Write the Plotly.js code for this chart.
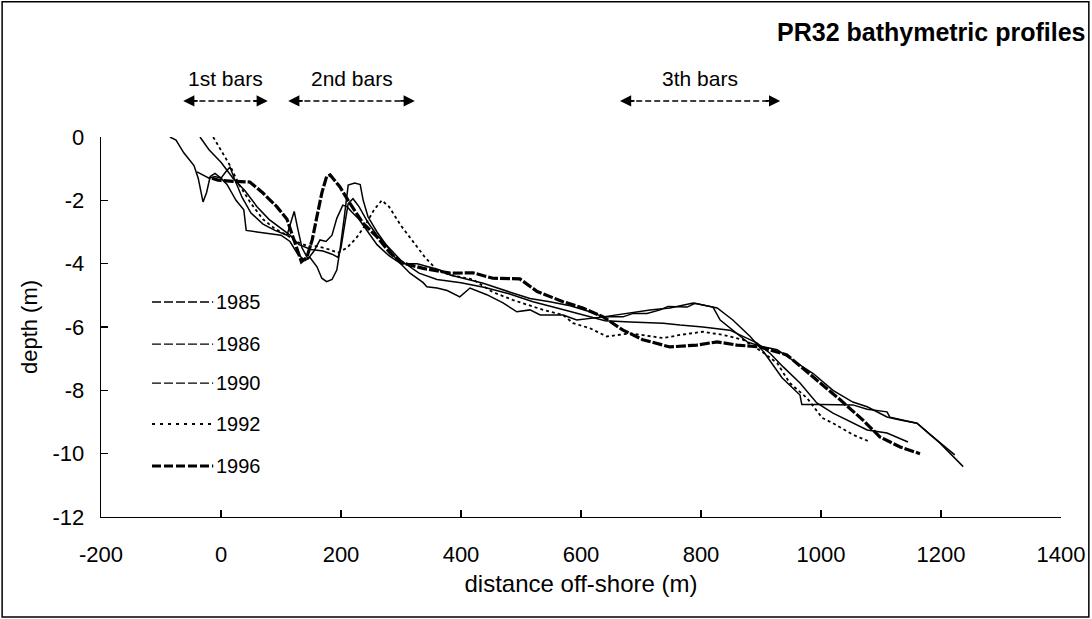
<!DOCTYPE html>
<html>
<head>
<meta charset="utf-8">
<script src="https://cdn.plot.ly/plotly-3.0.1.min.js"></script>
<style>html,body{margin:0;padding:0;background:#fff;}#chart{width:1092px;height:619px;}</style>
</head>
<body>
<div id="chart"></div>
<script>
// ---- data ----
const seriesNames = ["1985", "1986", "1990", "1992", "1996"];

const x1985 = [-85,-75,-62,-45,-38,-33,-30,-24,-18,-10,0,10,25,38,42,60,80,100,115,128,140,148,160,168,176,185,193,198,205,212,223,232,237,245,260,277,293,315,337,343,360,377,398,415,443,470,493,515,532,570,593,637,677,715,748,787,827,853,882,905,920,935,965,968,1000,1053,1077,1110,1115,1160,1198,1237];
const y1985 = [0,-0.1,-0.5,-0.9,-1.3,-1.8,-2.05,-1.75,-1.25,-1.15,-1.3,-1.5,-2.0,-2.3,-2.95,-3.0,-3.05,-3.1,-3.3,-3.7,-3.9,-3.8,-4.1,-4.46,-4.57,-4.5,-4.2,-3.6,-2.6,-1.52,-1.45,-1.5,-2.0,-2.52,-3.0,-3.47,-3.88,-4.3,-4.6,-4.73,-4.77,-4.85,-5.05,-4.77,-4.98,-5.24,-5.52,-5.46,-5.62,-5.62,-5.78,-5.68,-5.57,-5.46,-5.4,-5.24,-5.4,-5.78,-6.3,-6.8,-7.2,-7.6,-8.15,-8.45,-8.45,-8.46,-8.6,-8.68,-8.85,-9.04,-9.66,-10.41];

const x1986 = [-40,-30,-20,-10,0,8,15,22,35,50,70,90,110,118,122,128,135,145,155,165,175,185,193,203,210,218,230,245,260,280,300,327,365,382,415,437,482,515,548,582,615,637,670,687,710,732,745,777,790,820,832,853,877,898,927,953,987,1020,1053,1077,1110,1132,1160,1182,1198,1223];
const y1986 = [-1.1,-1.2,-1.3,-1.25,-1.3,-1.1,-0.95,-1.3,-1.9,-2.4,-2.75,-2.95,-3.1,-2.6,-2.35,-2.9,-3.5,-3.85,-3.6,-3.25,-3.3,-3.1,-2.57,-2.15,-2.2,-2.37,-2.6,-3.0,-3.4,-3.75,-4.0,-4.0,-4.2,-4.36,-4.52,-4.62,-4.9,-5.1,-5.2,-5.33,-5.52,-5.68,-5.68,-5.57,-5.57,-5.46,-5.35,-5.37,-5.25,-5.37,-5.78,-6.1,-6.47,-6.6,-6.72,-7.05,-7.47,-8.0,-8.37,-8.52,-8.84,-8.94,-9.04,-9.4,-9.66,-10.04];

const x1990 = [-35,-20,0,20,40,60,80,100,115,130,150,170,185,195,200,205,212,220,230,245,260,280,300,330,360,400,440,480,520,560,600,640,682,737,765,803,848,893,915,937,965,993,1020,1043,1077,1110,1145];
const y1990 = [0,-0.4,-0.8,-1.3,-1.7,-2.2,-2.6,-2.9,-3.1,-3.4,-3.55,-3.6,-3.7,-3.8,-3.5,-2.9,-2.1,-1.95,-2.2,-2.7,-3.1,-3.5,-3.9,-4.3,-4.5,-4.6,-4.75,-4.95,-5.2,-5.4,-5.6,-5.8,-5.84,-5.88,-5.94,-6.0,-6.1,-6.5,-6.83,-7.26,-7.77,-8.4,-8.72,-8.94,-9.25,-9.35,-9.63];

const x1992 = [-13,0,15,30,50,70,90,110,125,145,160,180,195,210,225,240,255,268,280,300,320,340,360,380,420,453,487,537,570,587,615,643,682,737,765,803,837,870,903,927,948,977,1002,1020,1053,1082];
const y1992 = [0,-0.4,-0.9,-1.5,-2.1,-2.6,-2.9,-3.1,-3.3,-3.45,-3.45,-3.55,-3.65,-3.5,-3.2,-2.8,-2.3,-2.0,-2.2,-2.8,-3.3,-3.8,-4.2,-4.35,-4.5,-4.9,-5.15,-5.46,-5.62,-5.88,-6.04,-6.3,-6.2,-6.35,-6.25,-6.15,-6.25,-6.4,-6.8,-7.14,-7.77,-8.25,-8.87,-9.04,-9.4,-9.63];

const x1996 = [-15,-5,20,48,70,93,110,120,129,134,143,152,160,168,176,182,198,215,237,260,282,303,337,370,382,420,453,498,527,570,603,637,670,703,748,793,827,860,898,943,987,1032,1070,1098,1132,1165];
const y1996 = [-1.3,-1.36,-1.4,-1.42,-1.77,-2.2,-2.6,-3.15,-3.67,-3.94,-3.8,-3.25,-2.5,-1.77,-1.25,-1.2,-1.57,-2.1,-2.73,-3.15,-3.67,-3.98,-4.15,-4.26,-4.3,-4.29,-4.46,-4.48,-4.88,-5.2,-5.4,-5.68,-6.1,-6.4,-6.63,-6.57,-6.47,-6.57,-6.63,-6.88,-7.58,-8.3,-8.94,-9.47,-9.79,-10.0];

const barLabels = ["1st bars", "2nd bars", "3th bars"];
const barStart = [-63, 112, 665];
const barEnd = [78, 323, 932];

const xTicks = [-200, 0, 200, 400, 600, 800, 1000, 1200, 1400];
const yTicks = [-12, -10, -8, -6, -4, -2, 0];

// ---- styling ----
const FONT = "Liberation Sans, Arial, sans-serif";
const xs = [x1985, x1986, x1990, x1992, x1996];
const ys = [y1985, y1986, y1990, y1992, y1996];
const plotStyles = [
  {width: 1.5, dash: "solid"},
  {width: 1.5, dash: "solid"},
  {width: 1.5, dash: "solid"},
  {width: 1.8, dash: "dot"},
  {width: 3.2, dash: "10px,2px"}
];
const legendStyles = [
  {width: 1.3, dash: "9px,3px"},
  {width: 1.3, dash: "9px,3px"},
  {width: 1.3, dash: "9px,3px"},
  {width: 2, dash: "3px,5px"},
  {width: 3.2, dash: "9px,3px"}
];

const traces = seriesNames.map((n, i) => ({
  type: "scatter", mode: "lines", name: n,
  x: xs[i], y: ys[i],
  line: {color: "#000", width: plotStyles[i].width, dash: plotStyles[i].dash},
  showlegend: false, hoverinfo: "skip"
}));

const shapes = [];
const annotations = [];

// custom legend
const legendY = [-5.21, -6.54, -7.77, -9.06, -10.39];
seriesNames.forEach((n, i) => {
  shapes.push({type: "line", xref: "x", yref: "y", x0: -115, x1: -13, y0: legendY[i], y1: legendY[i],
    line: {color: "#000", width: legendStyles[i].width, dash: legendStyles[i].dash}});
  annotations.push({xref: "x", yref: "y", x: -11, y: legendY[i], text: n, showarrow: false,
    xanchor: "left", yanchor: "middle", font: {family: FONT, size: 20, color: "#000"}});
});

// bar zone arrows and labels
const arrowY = 1.095, labelY = 1.155;
barLabels.forEach((t, i) => {
  const mid = (barStart[i] + barEnd[i]) / 2;
  annotations.push({xref: "x", yref: "paper", x: mid, y: labelY, text: t, showarrow: false,
    xanchor: "center", yanchor: "middle", font: {family: FONT, size: 21, color: "#000"}});
  shapes.push({type: "line", xref: "x", yref: "paper", x0: barStart[i] + 12, x1: barEnd[i] - 12,
    y0: arrowY, y1: arrowY, line: {color: "#000", width: 1.5, dash: "6px,3px"}});
  annotations.push({xref: "x", yref: "paper", x: barStart[i], y: arrowY, text: "", showarrow: true,
    ax: 16, ay: 0, arrowhead: 2, arrowsize: 1.4, arrowwidth: 1.6, arrowcolor: "#000"});
  annotations.push({xref: "x", yref: "paper", x: barEnd[i], y: arrowY, text: "", showarrow: true,
    ax: -16, ay: 0, arrowhead: 2, arrowsize: 1.4, arrowwidth: 1.6, arrowcolor: "#000"});
});

// chart title
annotations.push({xref: "paper", yref: "paper", x: 1.027, y: 1.276, text: "<b>PR32 bathymetric profiles</b>",
  showarrow: false, xanchor: "right", yanchor: "middle", font: {family: FONT, size: 25, color: "#000"}});

// outer frame
shapes.push({type: "rect", xref: "paper", yref: "paper", x0: -0.103, x1: 1.029, y0: -0.263, y1: 1.356,
  line: {color: "#000", width: 1.5}, fillcolor: "rgba(0,0,0,0)", layer: "above"});

const layout = {
  width: 1092, height: 619,
  margin: {l: 101, r: 31, t: 137, b: 102, pad: 0},
  paper_bgcolor: "#fff", plot_bgcolor: "#fff",
  font: {family: FONT, size: 20, color: "#000"},
  showlegend: false,
  xaxis: {
    range: [-200, 1400], tickvals: xTicks, ticktext: xTicks.map(String),
    showgrid: false, zeroline: false, showline: true, linecolor: "#000", linewidth: 1.3,
    ticks: "inside", ticklen: 7, tickwidth: 1.2, tickcolor: "#000",
    tickfont: {family: FONT, size: 22, color: "#000"}, ticklabelstandoff: 17,
    title: {text: "distance off-shore (m)", font: {family: FONT, size: 24, color: "#000"}, standoff: 9}
  },
  yaxis: {
    range: [-12, 0], tickvals: yTicks, ticktext: yTicks.map(String),
    showgrid: false, zeroline: false, showline: true, linecolor: "#000", linewidth: 1.3,
    ticks: "inside", ticklen: 7, tickwidth: 1.2, tickcolor: "#000",
    tickfont: {family: FONT, size: 22, color: "#000"}, ticklabelstandoff: 11,
    title: {text: "depth (m)", font: {family: FONT, size: 22, color: "#000"}, standoff: 8}
  },
  shapes: shapes,
  annotations: annotations
};

Plotly.newPlot("chart", traces, layout, {staticPlot: true, displayModeBar: false});
</script>
</body>
</html>
